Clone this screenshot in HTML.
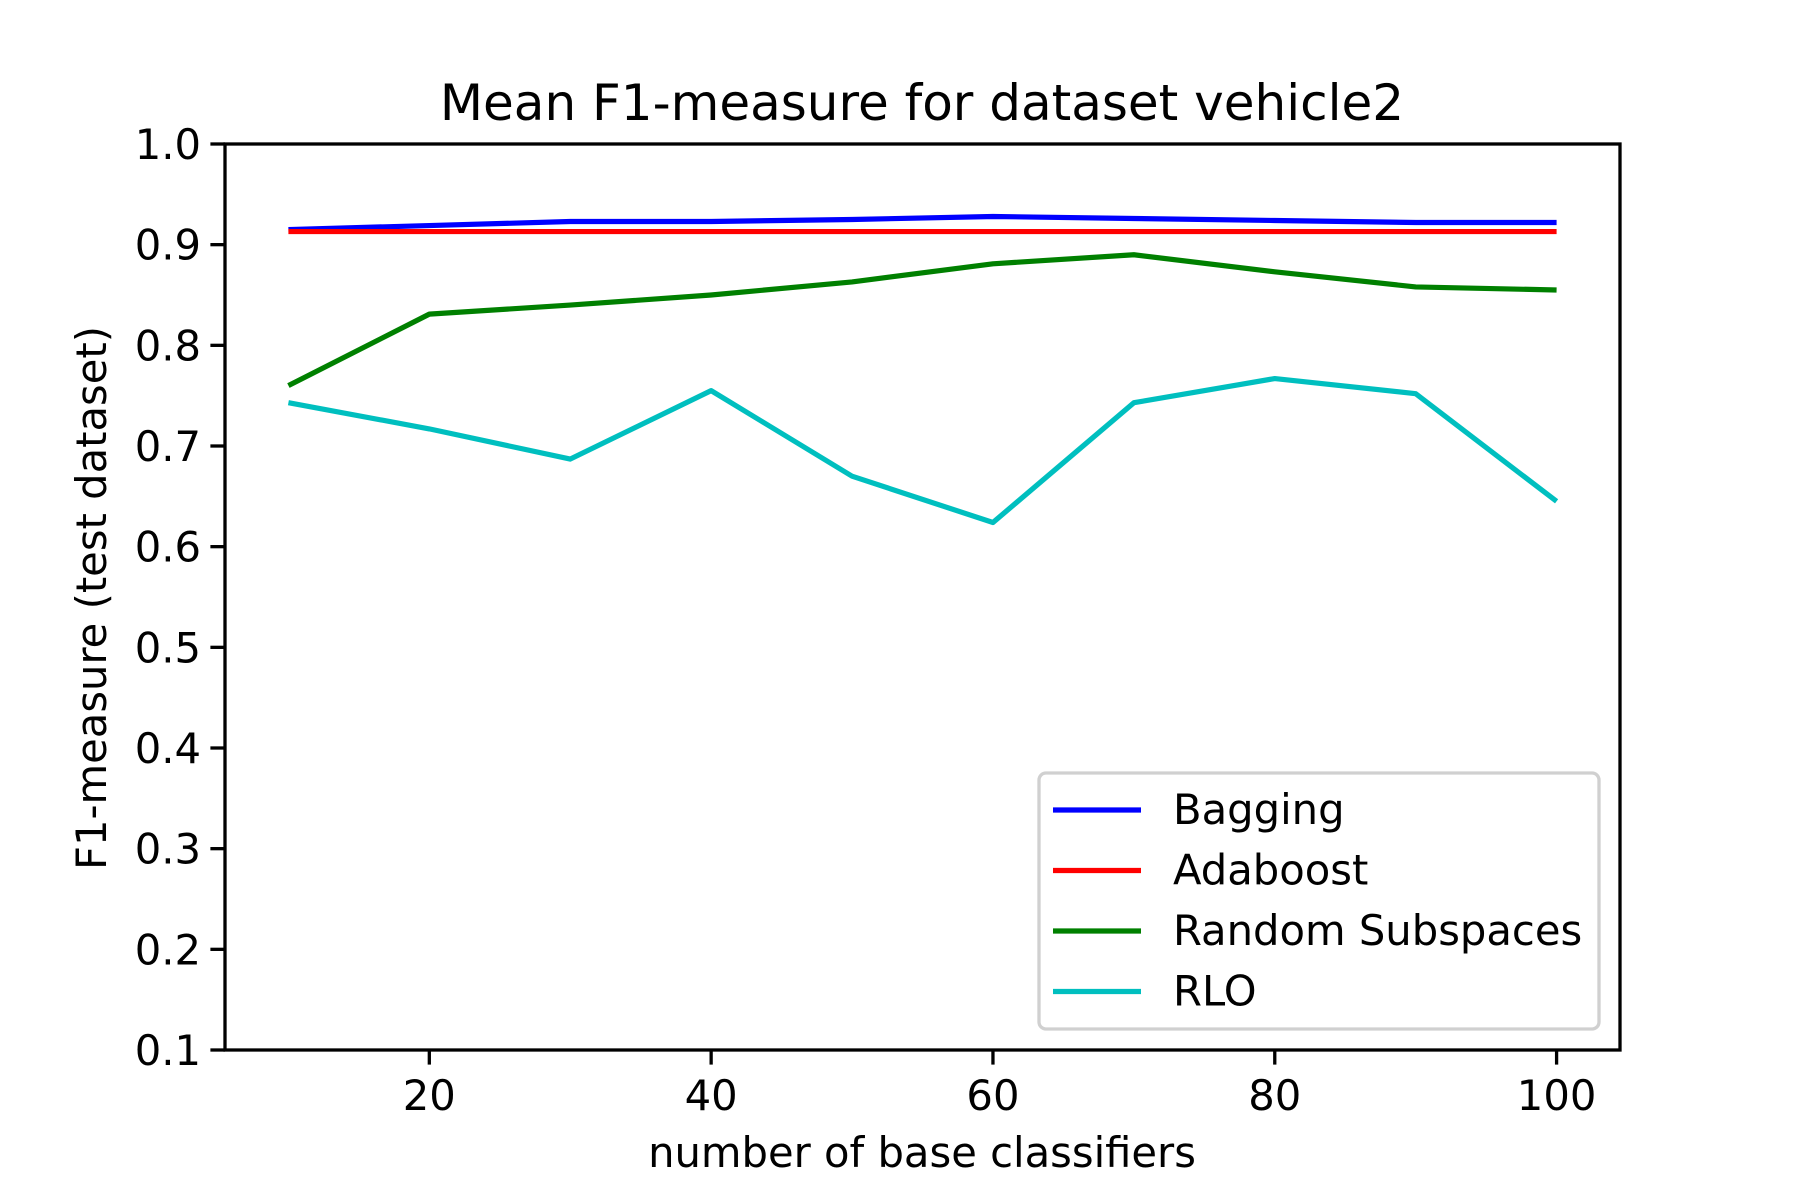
<!DOCTYPE html>
<html><head><meta charset="utf-8"><style>body{margin:0;background:#fff}svg{display:block}text{font-family:"DejaVu Sans","Liberation Sans",sans-serif;fill:#000}</style></head>
<body>
<svg id="chart" width="1800" height="1200" viewBox="0 0 1800 1200">
<rect width="1800" height="1200" fill="#fff"/>
<text x="922" y="120" font-size="50" text-anchor="middle">Mean F1-measure for dataset vehicle2</text>
<g id="plot"></g>
<text x="922" y="1167" font-size="41.7" text-anchor="middle">number of base classifiers</text>
<text transform="translate(106,598) rotate(-90)" font-size="41.7" text-anchor="middle">F1-measure (test dataset)</text>
</svg>
<script>
const xs=[10,20,30,40,50,60,70,80,90,100];
const bagging=[0.915,0.919,0.923,0.923,0.925,0.928,0.926,0.924,0.922,0.922];
const adaboost=[0.913,0.913,0.913,0.913,0.913,0.913,0.913,0.913,0.913,0.913];
const randomSubspaces=[0.760,0.831,0.840,0.850,0.863,0.881,0.890,0.873,0.858,0.855];
const rlo=[0.743,0.717,0.687,0.755,0.670,0.624,0.743,0.767,0.752,0.645];
const xTicks=[20,40,60,80,100];
const yTicks=[0.1,0.2,0.3,0.4,0.5,0.6,0.7,0.8,0.9,1.0];
const seriesNames=["Bagging","Adaboost","Random Subspaces","RLO"];
const NS="http://www.w3.org/2000/svg";
const L=225,R=1620,T=144,B=1050;
const X=v=>L+(v-5.5)/(104.5-5.5)*(R-L);
const Y=v=>B-(v-0.1)/(0.9)*(B-T);
const g=document.getElementById('plot');
function mk(t,a,p){const e=document.createElementNS(NS,t);for(const k in a)e.setAttribute(k,a[k]);(p||g).appendChild(e);return e;}
const series=[[bagging,"#0000ff"],[adaboost,"#ff0000"],[randomSubspaces,"#008000"],[rlo,"#00bfbf"]];
series.forEach((s,i)=>{
 const p=mk('polyline',{points:xs.map((x,j)=>X(x)+','+Y(s[0][j])).join(' '),fill:'none',stroke:s[1],'stroke-width':5.2,'stroke-linejoin':'round'});
 
 
});
const frame=mk('rect',{x:L,y:T,width:R-L,height:B-T,fill:'none',stroke:'#000','stroke-width':3.3});


xTicks.forEach(v=>{
 mk('line',{x1:X(v),x2:X(v),y1:B,y2:B+14.6,stroke:'#000','stroke-width':3.3});
 const t=mk('text',{x:X(v),y:B+60,'font-size':41.7,'text-anchor':'middle'});t.textContent=v;
 
 
});
yTicks.forEach(v=>{
 mk('line',{x1:L-14.6,x2:L,y1:Y(v),y2:Y(v),stroke:'#000','stroke-width':3.3});
 const t=mk('text',{x:L-24,y:Y(v)+15,'font-size':41.7,'text-anchor':'end'});t.textContent=v.toFixed(1);
 
 
});
const lg=mk('g',{});


mk('rect',{x:1039,y:773,width:560,height:256,rx:7,fill:'#fff','fill-opacity':0.8,stroke:'#d0d0d0','stroke-width':3.3},lg);
series.forEach((s,i)=>{
 const y=810+i*60.5;
 const e=mk('g',{},lg);
 
 
 mk('line',{x1:1053,x2:1141,y1:y,y2:y,stroke:s[1],'stroke-width':5.2},e);
 const t=mk('text',{x:1173,y:y+14,'font-size':41.7},e);t.textContent=seriesNames[i];
});
</script>
</body></html>
